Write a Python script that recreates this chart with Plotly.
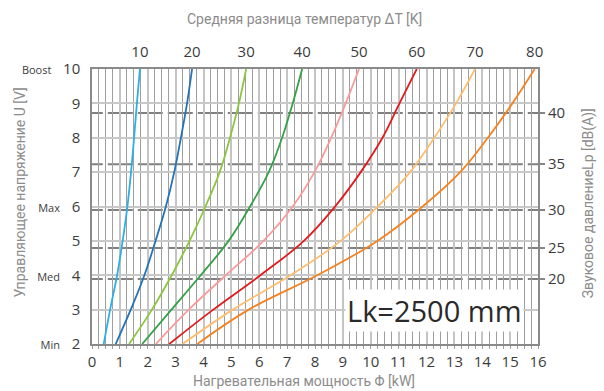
import plotly.graph_objects as go

# ---- data ----
VOLTS = [2, 3, 4, 5, 6, 7, 8, 9, 10]
DT_LABELS = ["10", "20", "30", "40", "50", "60", "70", "80"]
P_DT10 = [0.42, 0.65, 0.90, 1.10, 1.27, 1.40, 1.51, 1.61, 1.72]
P_DT20 = [0.85, 1.39, 1.88, 2.28, 2.65, 2.95, 3.19, 3.41, 3.59]
P_DT30 = [1.33, 2.15, 2.86, 3.50, 4.07, 4.58, 4.95, 5.27, 5.53]
P_DT40 = [1.80, 2.85, 3.90, 4.90, 5.67, 6.34, 6.82, 7.20, 7.54]
P_DT50 = [2.29, 3.47, 4.80, 6.15, 7.20, 7.98, 8.58, 9.10, 9.58]
P_DT60 = [2.77, 4.35, 6.04, 7.60, 8.72, 9.64, 10.42, 11.03, 11.65]
P_DT70 = [3.25, 5.05, 7.12, 8.92, 10.25, 11.41, 12.28, 13.06, 13.74]
P_DT80 = [3.78, 5.62, 8.08, 10.24, 11.86, 13.21, 14.20, 15.08, 15.88]
SERIES = [P_DT10, P_DT20, P_DT30, P_DT40, P_DT50, P_DT60, P_DT70, P_DT80]

Y_TICK_VALS = [2, 3, 4, 5, 6, 7, 8, 9, 10]
Y_TICK_NAMES = ["Min", "", "Med", "", "Max", "", "", "", "Boost"]
X_TICK_VALS = list(range(0, 17))
DB_LABELS = ["20", "25", "30", "35", "40"]
DB_AT_VOLTS = [3.89, 4.79, 5.90, 7.23, 8.72]
LK_TEXT = "Lk=2500 mm"

COLORS = ["#2eaee4", "#2473b5", "#8cc63e", "#34a047",
          "#f99b9b", "#e31a1c", "#fdbe6f", "#f5821f"]

fig = go.Figure()

for vals, col in zip(SERIES, COLORS):
    fig.add_trace(go.Scatter(x=vals, y=VOLTS, mode="lines",
                             line=dict(color=col, width=1.8, shape="spline", smoothing=1.1),
                             hoverinfo="skip", showlegend=False))

# coloured marks above the frame at each curve's top end
tops = [s[-1] for s in SERIES]
fig.add_trace(go.Scatter(x=tops, y=[10.1] * len(tops), xaxis="x2", mode="markers",
                         marker=dict(symbol="line-ns", size=7,
                                     line=dict(color=COLORS, width=2)),
                         cliponaxis=False, hoverinfo="skip", showlegend=False))

# invisible trace to carry the right axis
fig.add_trace(go.Scatter(x=[0] * len(DB_AT_VOLTS), y=DB_AT_VOLTS, yaxis="y2",
                         mode="markers", marker=dict(opacity=0),
                         hoverinfo="skip", showlegend=False))

# dashed sound-pressure lines
dash = "20px,5px" + ",25px,5px" * 17
for v in DB_AT_VOLTS:
    fig.add_shape(type="line", xref="x", yref="y", x0=-0.33, x1=16.1, y0=v, y1=v,
                  line=dict(color="#808080", width=2, dash=dash), layer="below")

ytext = []
for v, n in zip(Y_TICK_VALS, Y_TICK_NAMES):
    if n:
        ytext.append(f"<span style='font-size:11px'>{n}</span>\u00a0\u00a0\u00a0{v}")
    else:
        ytext.append(str(v))

tick_font = dict(family="Open Sans", size=15, color="#3c3c3c")
title_font = dict(family="Roboto", size=14, color="#8c8c8c")

fig.update_layout(
    width=604, height=391,
    margin=dict(l=92, r=66, t=69, b=47),
    paper_bgcolor="white", plot_bgcolor="white",
    showlegend=False,
    xaxis=dict(range=[0, 16], tickvals=X_TICK_VALS, tickfont=tick_font,
               showgrid=True, gridcolor="#c4c4c4", gridwidth=2,
               minor=dict(dtick=0.25, showgrid=True, gridcolor="#9e9e9e", gridwidth=1,
                          ticks="outside", ticklen=3, tickcolor="#9e9e9e"),
               ticks="outside", ticklen=3, tickcolor="#9e9e9e",
               showline=True, linecolor="#8a8a8a", linewidth=1.5, mirror=True,
               zeroline=False, fixedrange=True, automargin=False),
    xaxis2=dict(range=[0, 16], overlaying="x", side="top", tickvals=tops,
                ticktext=DT_LABELS, tickfont=tick_font, showgrid=False,
                ticks="outside", ticklen=5, tickcolor="rgba(0,0,0,0)",
                showline=False, zeroline=False, automargin=False),
    yaxis=dict(range=[2, 10], tickvals=Y_TICK_VALS, ticktext=ytext, tickfont=tick_font,
               showgrid=True, gridcolor="#c8c8c8", gridwidth=2,
               ticks="outside", ticklen=7, tickcolor="rgba(0,0,0,0)",
               showline=True, linecolor="#8a8a8a", linewidth=1.5, mirror=True,
               zeroline=False, automargin=False),
    yaxis2=dict(range=[2, 10], overlaying="y", side="right", tickvals=DB_AT_VOLTS,
                ticktext=DB_LABELS, tickfont=tick_font, showgrid=False,
                ticks="outside", ticklen=6, tickwidth=2, tickcolor="#858585",
                showline=False, zeroline=False, automargin=False),
    annotations=[
        dict(text="Средняя разница температур ΔT [K]", xref="paper", yref="paper",
             x=0.4775, y=1.183, showarrow=False, font=title_font,
             xanchor="center", yanchor="middle"),
        dict(text="Нагревательная мощность Φ [kW]", xref="paper", yref="paper",
             x=0.4755, y=-0.136, showarrow=False, font=title_font,
             xanchor="center", yanchor="middle"),
        dict(text="Управляющее напряжение U [V]", xref="paper", yref="paper",
             x=-0.162, y=0.55, showarrow=False, font=title_font, textangle=-90,
             xanchor="center", yanchor="middle"),
        dict(text="Звуковое давлениеLp [dB(A)]", xref="paper", yref="paper",
             x=1.115, y=0.513, showarrow=False, font=title_font, textangle=-90,
             xanchor="center", yanchor="middle"),
        dict(text=LK_TEXT, xref="x", yref="y", x=12.3, y=2.97, showarrow=False,
             font=dict(family="Open Sans", size=29, color="#2a2a2a"),
             bgcolor="white", borderpad=1, xanchor="center", yanchor="middle"),
    ],
)

fig.write_html("out.html", config={"displayModeBar": False},
               post_script="document.body.style.margin='0';document.body.style.overflow='hidden';")
